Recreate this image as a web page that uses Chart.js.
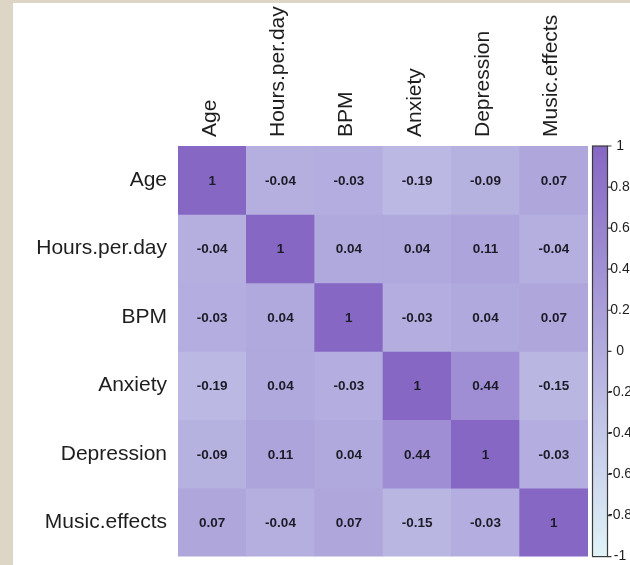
<!DOCTYPE html>
<html>
<head>
<meta charset="utf-8">
<script src="https://cdn.jsdelivr.net/npm/chart.js@4.4.1/dist/chart.umd.min.js"></script>
<style>
  body { margin: 0; width: 630px; height: 565px; background: #ddd6c6; overflow: hidden; }
  #panel { position: absolute; left: 13px; top: 3px; right: 0; bottom: 0; background: #fff; }
  /* taller than the window: the axis label overhang below the grid falls off the page */
  #wrap { position: absolute; left: 0; top: 0; width: 630px; height: 585px; }
</style>
</head>
<body>
<div id="panel"></div>
<div id="wrap"><canvas id="graphCanvas"></canvas></div>
<script>
// variable names (rows top to bottom, columns left to right)
var vars = ['Age', 'Hours.per.day', 'BPM', 'Anxiety', 'Depression', 'Music.effects'];

// correlation matrix, one row each
var ageRow        = [1, -0.04, -0.03, -0.19, -0.09, 0.07];
var hoursRow      = [-0.04, 1, 0.04, 0.04, 0.11, -0.04];
var bpmRow        = [-0.03, 0.04, 1, -0.03, 0.04, 0.07];
var anxietyRow    = [-0.19, 0.04, -0.03, 1, 0.44, -0.15];
var depressionRow = [-0.09, 0.11, 0.04, 0.44, 1, -0.03];
var musicRow      = [0.07, -0.04, 0.07, -0.15, -0.03, 1];

var rows = [ageRow, hoursRow, bpmRow, anxietyRow, depressionRow, musicRow];

// colour legend range
var legendMin = -1;
var legendMax = 1;
var legendStep = 0.2;

var lowCol = [224, 243, 248];
var midCol = [178, 172, 222];
var highCol = [134, 103, 196];

function colorFor(v) {
    var a, b, t;
    if (v < 0) { a = midCol; b = lowCol; t = -v; }
    else { a = midCol; b = highCol; t = v; }
    var c = [0, 1, 2].map(function (k) { return Math.round(a[k] + (b[k] - a[k]) * t); });
    return 'rgb(' + c[0] + ',' + c[1] + ',' + c[2] + ')';
}

var datasets = rows.map(function (r, i) {
    return {
        label: vars[i],
        data: r.map(function () { return 1; }),
        corr: r,
        backgroundColor: r.map(colorFor),
        borderWidth: 0,
        barPercentage: 1,
        categoryPercentage: 1,
        xAxisID: 'x',
        yAxisID: 'y'
    };
});

var labelFont = '"Liberation Sans", Arial, sans-serif';

var cellText = {
    id: 'cellText',
    afterDatasetsDraw: function (chart) {
        var ctx = chart.ctx;
        ctx.save();
        ctx.font = 'bold 13.5px ' + labelFont;
        ctx.fillStyle = '#1c1c28';
        ctx.textAlign = 'center';
        ctx.textBaseline = 'middle';
        chart.data.datasets.forEach(function (ds, i) {
            chart.getDatasetMeta(i).data.forEach(function (el, j) {
                var v = ds.corr[j];
                var p = el.getCenterPoint();
                ctx.fillText(v === 1 ? '1' : v.toFixed(2), p.x, p.y + 1);
            });
        });
        ctx.restore();
    }
};

var colorBar = {
    id: 'colorBar',
    afterDraw: function (chart) {
        var s = chart.scales.cb;
        var ctx = chart.ctx;
        var x0 = s.left + 4.5, w = 15;
        var top = s.getPixelForValue(legendMax), bot = s.getPixelForValue(legendMin);
        var g = ctx.createLinearGradient(0, top, 0, bot);
        g.addColorStop(0, 'rgb(' + highCol.join(',') + ')');
        g.addColorStop(0.5, 'rgb(' + midCol.join(',') + ')');
        g.addColorStop(1, 'rgb(' + lowCol.join(',') + ')');
        ctx.save();
        ctx.fillStyle = g;
        ctx.fillRect(x0, top, w, bot - top);
        ctx.strokeStyle = '#3a3a3a';
        ctx.lineWidth = 1.2;
        ctx.strokeRect(x0, top, w, bot - top);
        ctx.beginPath();
        s.ticks.forEach(function (t) {
            var y = s.getPixelForValue(t.value);
            ctx.moveTo(x0 + w, y);
            ctx.lineTo(x0 + w + 4, y);
        });
        ctx.stroke();
        ctx.restore();
    }
};

new Chart(document.getElementById('graphCanvas'), {
    type: 'bar',
    data: { labels: vars, datasets: datasets },
    options: {
        responsive: true,
        maintainAspectRatio: false,
        animation: false,
        layout: { padding: 0 },
        plugins: { legend: { display: false }, tooltip: { enabled: false } },
        scales: {
            x: {
                type: 'category',
                position: 'top',
                stacked: true,
                grid: { display: false, drawTicks: false },
                border: { display: false },
                ticks: {
                    minRotation: 90,
                    maxRotation: 90,
                    padding: 9,
                    labelOffset: 23,
                    color: '#1e1e1e',
                    font: { family: labelFont, size: 21 }
                },
                afterFit: function (s) { s.height = 146; }
            },
            y: {
                type: 'linear',
                position: 'left',
                stacked: true,
                reverse: true,
                min: 0,
                max: vars.length,
                grid: { display: false, drawTicks: false },
                border: { display: false },
                afterBuildTicks: function (s) {
                    s.ticks = vars.map(function (v, i) { return { value: i + 0.5 }; });
                },
                ticks: {
                    padding: 11,
                    color: '#1e1e1e',
                    font: { family: labelFont, size: 21 },
                    callback: function (v, i) { return vars[i]; }
                },
                afterFit: function (s) { s.width = 178; }
            },
            cb: {
                type: 'linear',
                axis: 'y',
                position: 'right',
                display: true,
                min: legendMin,
                max: legendMax,
                grid: { display: false, drawTicks: false },
                border: { display: false },
                ticks: {
                    stepSize: legendStep,
                    padding: 20,
                    crossAlign: 'center',
                    color: '#1e1e1e',
                    font: { family: labelFont, size: 14 },
                    callback: function (v) { return String(+v.toFixed(1)); }
                },
                afterFit: function (s) { s.width = 42; }
            }
        }
    },
    plugins: [cellText, colorBar]
});
</script>
</body>
</html>
